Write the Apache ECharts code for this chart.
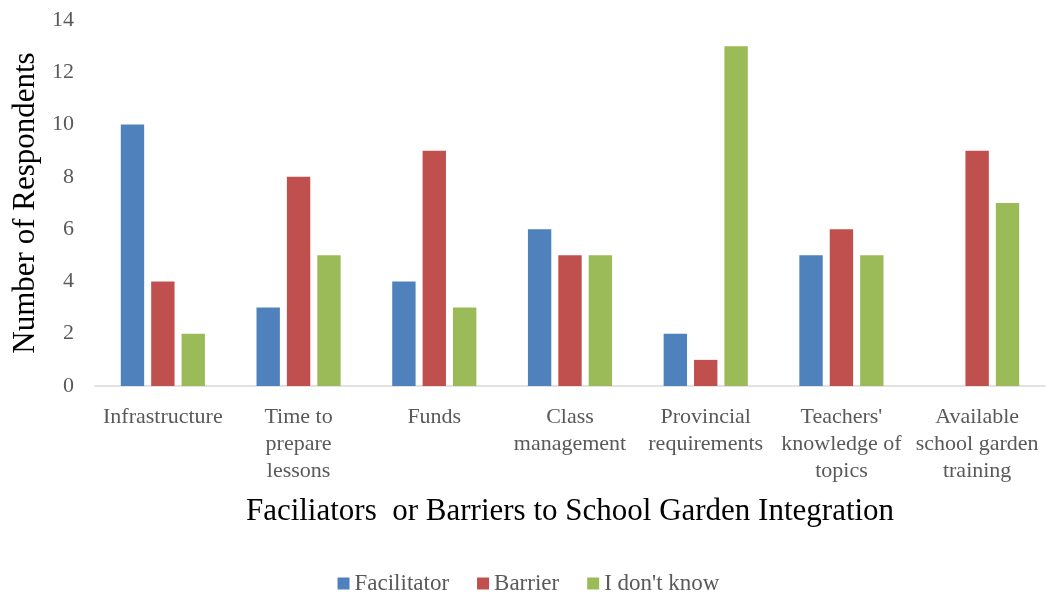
<!DOCTYPE html>
<html>
<head>
<meta charset="utf-8">
<script src="https://cdn.jsdelivr.net/npm/echarts@6/dist/echarts.min.js"></script>
<style>
  html, body { margin: 0; padding: 0; background: #fff; }
  #chart { width: 1057px; height: 592px; }
</style>
</head>
<body>
<div id="chart"></div>
<script>
const categories = [
  'Infrastructure',
  'Time to\nprepare\nlessons',
  'Funds',
  'Class\nmanagement',
  'Provincial\nrequirements',
  "Teachers'\nknowledge of\ntopics",
  'Available\nschool garden\ntraining'
]
const facilitator = [10, 3, 4, 6, 2, 5, 0]
const barrier = [4, 8, 9, 5, 1, 6, 9]
const dontKnow = [2, 5, 3, 5, 13, 5, 7]
const yTicks = { min: 0, max: 14, interval: 2 }

const font = '"Liberation Serif", "Times New Roman", serif'

const chart = echarts.init(document.getElementById('chart'))
chart.setOption({
  animation: false,
  textStyle: { fontFamily: font },
  grid: { left: 95, right: 12, top: 20, bottom: 206 },
  legend: {
    top: 567,
    left: 'center',
    itemWidth: 12,
    itemHeight: 12,
    itemGap: 28,
    icon: 'rect',
    textStyle: { fontFamily: font, fontSize: 23, color: '#595959' },
    data: ['Facilitator', 'Barrier', "I don't know"]
  },
  xAxis: {
    type: 'category',
    data: categories,
    name: 'Faciliators  or Barriers to School Garden Integration',
    nameLocation: 'middle',
    nameGap: 110,
    nameTextStyle: { fontFamily: font, fontSize: 31, color: '#000' },
    axisLine: { lineStyle: { color: '#d9d9d9', width: 1.5 } },
    axisTick: { show: false },
    axisLabel: {
      interval: 0,
      margin: 18,
      fontFamily: font,
      fontSize: 22,
      color: '#595959',
      lineHeight: 27
    }
  },
  yAxis: {
    type: 'value',
    min: yTicks.min,
    max: yTicks.max,
    interval: yTicks.interval,
    name: 'Number of Respondents',
    nameLocation: 'middle',
    nameGap: 46,
    nameTextStyle: { fontFamily: font, fontSize: 31, color: '#000' },
    axisLine: { show: false },
    axisTick: { show: false },
    splitLine: { show: false },
    axisLabel: { margin: 21, fontFamily: font, fontSize: 22, color: '#595959' }
  },
  series: [
    {
      name: 'Facilitator',
      type: 'bar',
      data: facilitator,
      barGap: '30%',
      barCategoryGap: '38%',
      itemStyle: { color: '#4F81BD' }
    },
    {
      name: 'Barrier',
      type: 'bar',
      data: barrier,
      itemStyle: { color: '#C0504D' }
    },
    {
      name: "I don't know",
      type: 'bar',
      data: dontKnow,
      itemStyle: { color: '#9BBB59' }
    }
  ]
})
</script>
</body>
</html>
